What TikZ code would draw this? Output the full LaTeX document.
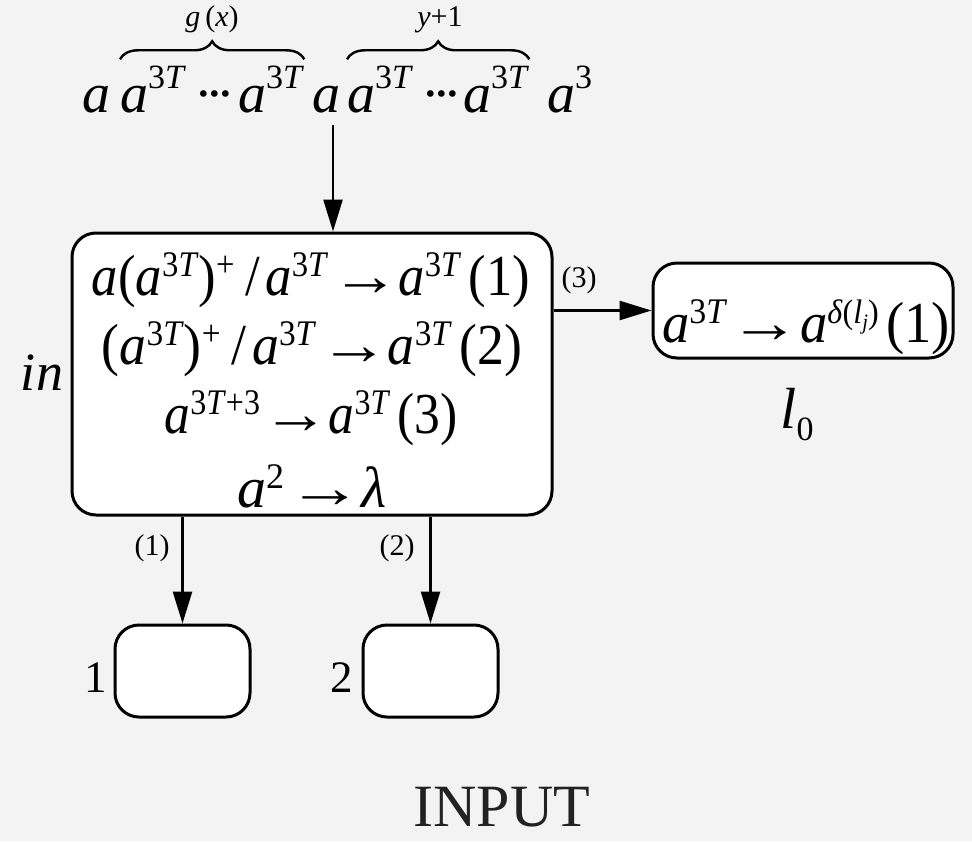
\documentclass[tikz,border=0pt]{standalone}
\usepackage{fontspec}
\usepackage{graphicx}
\setmainfont{Liberation Serif}
\usetikzlibrary{arrows.meta,decorations.pathreplacing}

\definecolor{paper}{HTML}{F3F3F3}
\definecolor{caption}{HTML}{222222}

% italic letter a, exponents for the rule boxes and for the spike train
\newcommand\ia{\textit{a}}
\newcommand\thT{3\textit{T}}
\newcommand\boxsup[1]{\raisebox{19pt}{\fontsize{36}{36}\selectfont #1}}
\newcommand\topsup[1]{\raisebox{24pt}{\fontsize{34}{34}\selectfont #1}}
\newcommand\arr{\hspace{3pt}\scalebox{1.3}[1]{→}\hspace{-1pt}}
\newcommand\onedot{\makebox[11pt]{\textperiodcentered}}
% set a rule on a given width, keeping its height
\newcommand\fitw[2]{\resizebox{#1}{\height}{#2}}

\begin{document}
\begin{tikzpicture}[x=1pt,y=-1pt,
  rbox/.style={draw, line width=3pt, rounded corners=24pt, fill=white, inner sep=0pt},
  flow/.style={line width=2.6pt, -{Triangle[length=32pt,width=19pt]}},
  ruletext/.style={inner sep=0pt, anchor=base, font=\fontsize{58}{58}\selectfont},
  toptext/.style={inner sep=0pt, anchor=base west, font=\fontsize{56}{56}\selectfont},
  small/.style={inner sep=0pt, anchor=base, font=\fontsize{30}{30}\selectfont},
  digit/.style={inner sep=0pt, anchor=base east, font=\fontsize{45}{45}\selectfont},
  brace/.style={line width=2.4pt, decorate, decoration={brace, amplitude=18pt}}]

\fill[paper] (0,0) rectangle (972,841);
\useasboundingbox (0,0) rectangle (972,841);

% spike train entering the input neuron
\node[toptext] (t1) at (82,112)  {\ia};
\node[toptext] (t2) at (120,112) {\ia\topsup{\thT}};
\node[toptext] (t3) at (198,112) {\onedot\onedot\onedot};
\node[toptext] (t4) at (238,112) {\ia\topsup{\thT}};
\node[toptext] (t5) at (312,112) {\ia};
\node[toptext] (t6) at (347,112) {\ia\topsup{\thT}};
\node[toptext] (t7) at (425,112) {\onedot\onedot\onedot};
\node[toptext] (t8) at (463,112) {\ia\topsup{\thT}};
\node[toptext] (t9) at (547,112) {\ia\topsup{3}};

\draw[brace] ([yshift=6pt]t2.north west) -- ([yshift=6pt]t4.north east);
\draw[brace] ([yshift=6pt]t6.north west) -- ([yshift=6pt]t8.north east);
\node[small] (gx) at (212,26) {\textit{g}\,(\textit{x})};
\node[small] (y1) at (440,26) {\textit{y}+1};

% input neuron
\node[rbox, minimum width=480pt, minimum height=282pt] (main) at (312,374) {};
\node[ruletext] (r1) at (311,295) {\fitw{438pt}{\ia(\ia\boxsup{\thT})\boxsup{+}\hspace{12pt}/\hspace{6pt}\ia\boxsup{\thT}\arr\ia\boxsup{\thT}\hspace{8pt}(1)}};
\node[ruletext] (r2) at (312,364) {\fitw{420pt}{(\ia\boxsup{\thT})\boxsup{+}\hspace{12pt}/\hspace{6pt}\ia\boxsup{\thT}\arr\ia\boxsup{\thT}\hspace{8pt}(2)}};
\node[ruletext] (r3) at (311,433) {\fitw{293pt}{\ia\boxsup{\thT+3}\arr\ia\boxsup{\thT}\hspace{8pt}(3)}};
\node[ruletext] (r4) at (312,507) {\ia\boxsup{2}\arr\textit{λ}};
\node[ruletext, font=\fontsize{54}{54}\selectfont] (in) at (42,390) {\textit{in}};

\coordinate (src) at (333,125);
\draw[flow] (src) -- (src |- main.north);

% neuron l0
\node[rbox, minimum width=300pt, minimum height=95pt] (l0box) at (803,310.5) {};
\node[ruletext] (l0rule) at (806,342) {\fitw{288pt}{\ia\boxsup{\thT}\arr\ia\raisebox{19pt}{\fontsize{34}{34}\selectfont\textit{δ}(\textit{l}\raisebox{-6pt}{\fontsize{22}{22}\selectfont\textit{j}})}\hspace{8pt}(1)}};
\node[ruletext] (l0) at (797,428) {\textit{l}\raisebox{-12pt}{\fontsize{34}{34}\selectfont 0}};
\draw[flow] (main.east |- l0box.west) -- (l0box.west);
\node[small] (c3) at (579,287) {(3)};

% neurons 1 and 2
\node[rbox, minimum width=135pt, minimum height=92pt] (m1) at (182.5,671) {};
\node[rbox, minimum width=135pt, minimum height=92pt] (m2) at (430.5,671) {};
\draw[flow] (main.south -| m1) -- (m1.north);
\draw[flow] (main.south -| m2) -- (m2.north);
\node[small] (c1) at (152,555) {(1)};
\node[small] (c2) at (397,555) {(2)};
\node[digit] (n1) at (107,692) {1};
\node[digit] (n2) at (353,692) {2};

\node[inner sep=0pt, anchor=base, text=caption, font=\fontsize{60}{60}\selectfont] (cap) at (502,826) {INPUT};
\end{tikzpicture}
\end{document}
